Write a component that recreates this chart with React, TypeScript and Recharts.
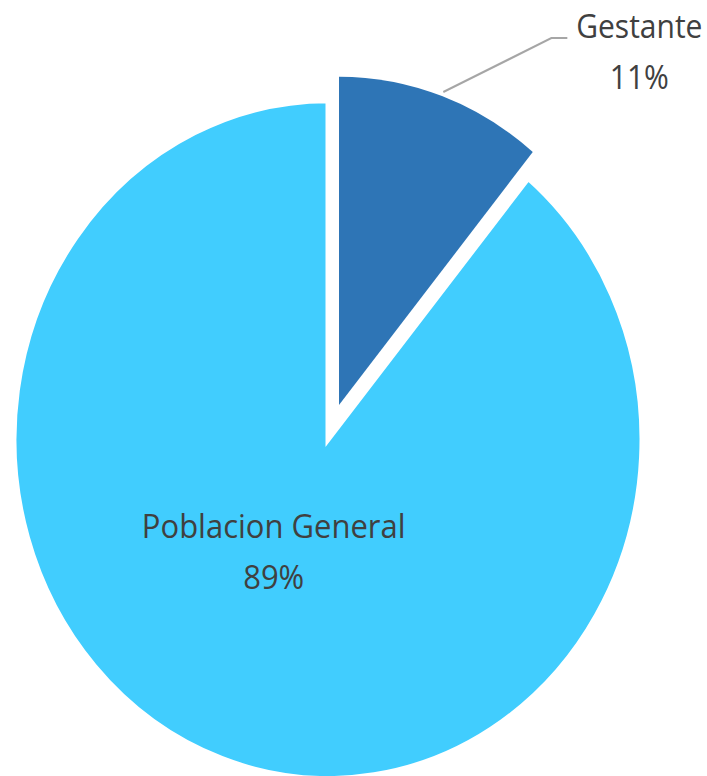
import React from 'react';
import { PieChart, Pie, Cell } from 'recharts';

const names = ['Gestante', 'Poblacion General'];
const values = [11, 89];
const colors = ['#2E75B6', '#41CDFE'];

const data = names.map((name, i) => ({ name, value: values[i] }));

const RAD = Math.PI / 180;
const polar = (cx: number, cy: number, r: number, angle: number) => ({
    x: cx + r * Math.cos(-angle * RAD),
    y: cy + r * Math.sin(-angle * RAD),
});

const textStyle = { fontFamily: '"Open Sans", sans-serif', fontSize: 30, fill: '#404040' };

// label inside the big slice
const mainLabel = (props: any) => {
    const { cx, cy, midAngle, outerRadius, percent, name, index } = props;
    if (index !== 1) return <g />;
    const p = polar(cx, cy, outerRadius * 0.36, midAngle);
    const x = p.x - 16;
    return (
        <g>
            <text x={x} y={p.y - 15} textAnchor="middle" style={{ ...textStyle, fontSize: 31 }}>{name}</text>
            <text x={x} y={p.y + 32} textAnchor="middle" style={{ ...textStyle, fontSize: 31 }}>{`${Math.round(percent * 100)}%`}</text>
        </g>
    );
};

// label with leader line for the exploded slice
const explodedLabel = (props: any) => {
    const { cx, cy, midAngle, outerRadius, percent, name, index } = props;
    if (index !== 0) return <g />;
    const s = polar(cx, cy, outerRadius + 4, midAngle);
    const ex = s.x + 108;
    const ey = s.y - 50;
    return (
        <g>
            <polyline points={`${s.x},${s.y} ${ex},${ey} ${ex + 16},${ey}`} fill="none" stroke="#A6A6A6" strokeWidth={2} />
            <text x={ex + 88} y={ey} textAnchor="middle" style={textStyle}>{name}</text>
            <text x={ex + 88} y={ey + 47} textAnchor="middle" style={textStyle}>{`${Math.round(percent * 100)}%`}</text>
        </g>
    );
};

export default function App() {
    return (
        <div style={{ position: 'absolute', left: 0, top: 0, width: 707, height: 776, overflow: 'hidden', background: '#fff' }}>
            <div style={{ transform: 'scaleY(1.08)', transformOrigin: '0 0' }}>
                <PieChart width={707} height={719} margin={{ top: 0, right: 0, bottom: 0, left: 0 }}>
                    <Pie
                        data={data}
                        dataKey="value"
                        nameKey="name"
                        cx={328}
                        cy={407}
                        outerRadius={314}
                        startAngle={90}
                        endAngle={-270}
                        stroke="#fff"
                        strokeWidth={5}
                        label={mainLabel}
                        labelLine={false}
                        isAnimationActive={false}
                    >
                        <Cell fill="none" stroke="none" />
                        <Cell fill={colors[1]} />
                    </Pie>
                    <Pie
                        data={data}
                        dataKey="value"
                        nameKey="name"
                        cx={339}
                        cy={375}
                        outerRadius={304}
                        startAngle={90}
                        endAngle={-270}
                        stroke="none"
                        label={explodedLabel}
                        labelLine={false}
                        isAnimationActive={false}
                    >
                        <Cell fill={colors[0]} />
                        <Cell fill="none" stroke="none" />
                    </Pie>
                </PieChart>
            </div>
        </div>
    );
}
